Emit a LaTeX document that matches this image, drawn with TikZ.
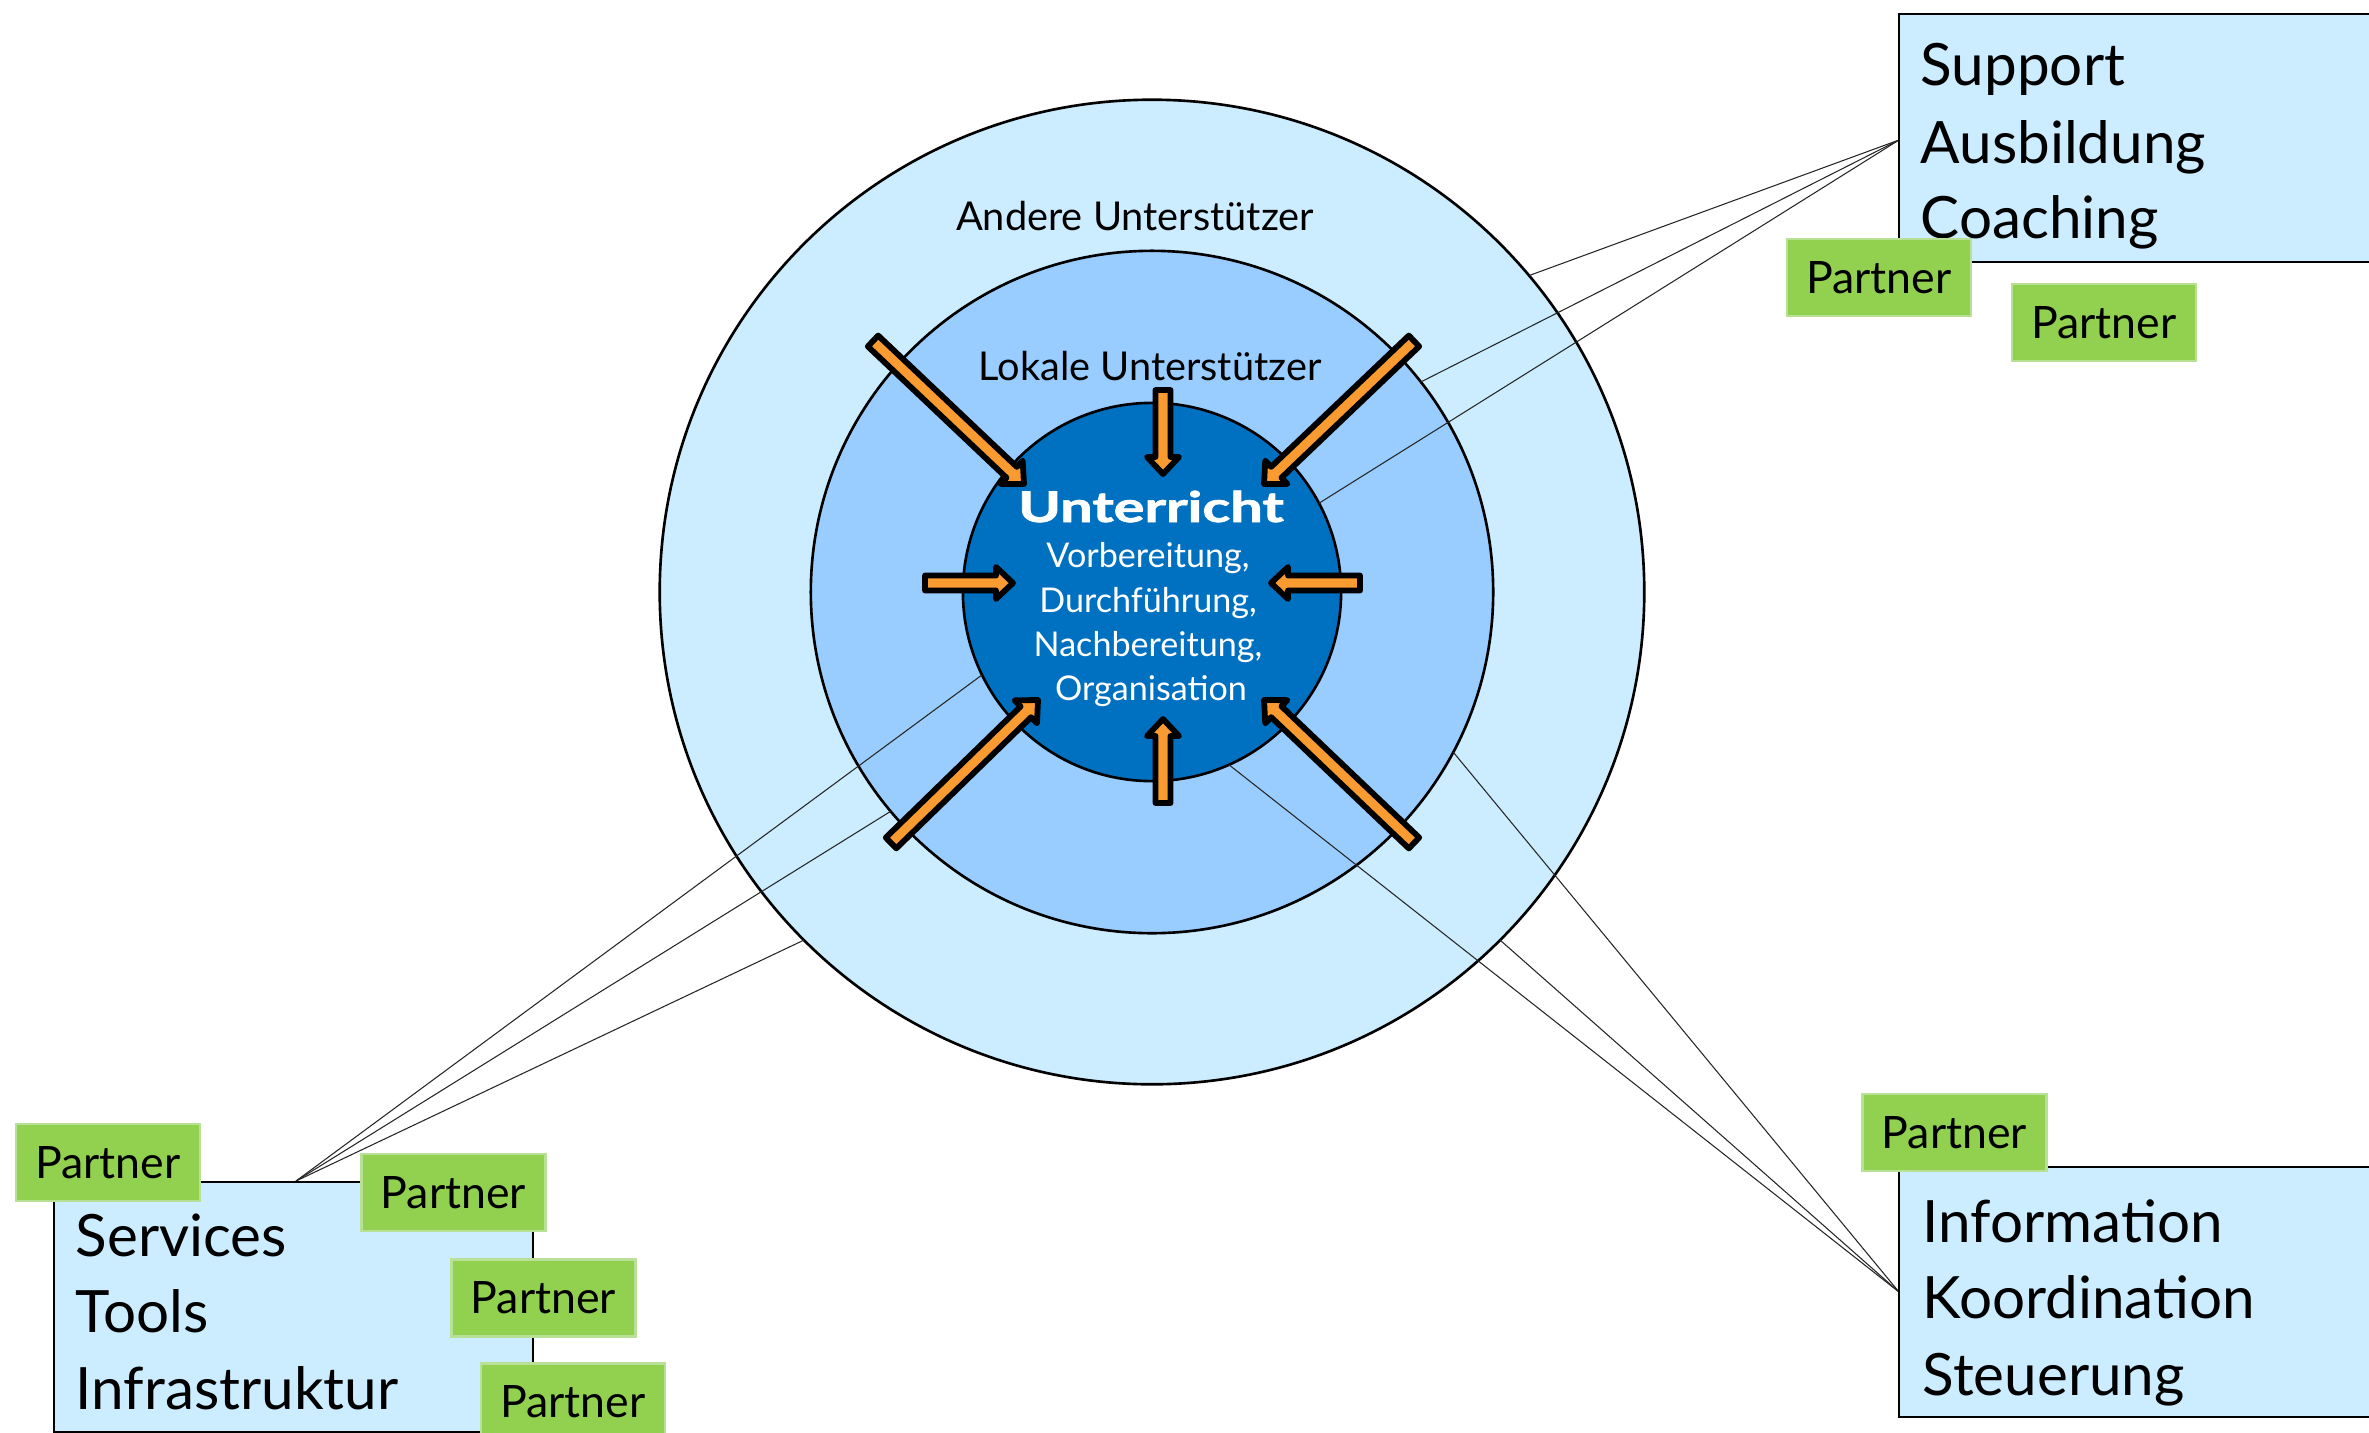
\documentclass[tikz,border=0pt]{standalone}
\usepackage{fontspec}
\setmainfont{Lato}
\usetikzlibrary{calc}
\definecolor{ringA}{RGB}{204,236,255}
\definecolor{ringB}{RGB}{153,204,255}
\definecolor{core}{RGB}{0,112,192}
\definecolor{partnerG}{RGB}{146,208,80}
\definecolor{partnerB}{RGB}{184,224,150}
\definecolor{arrowO}{RGB}{250,155,50}
\tikzset{
  ring/.style={circle, draw=black, line width=0.75pt, inner sep=0pt, outer sep=0pt},
  link/.style={draw=black!85, line width=0.3pt},
  blockarrow/.style={draw=black, fill=arrowO, line width=0.058cm, line join=round},
  bigbox/.style={draw=black, fill=ringA, line width=0.6pt, inner sep=0pt, outer sep=0pt, anchor=north west},
  boxtext/.style={anchor=base west, inner sep=0pt, font=\fontsize{16.6pt}{20pt}\selectfont},
  partner/.style={draw=partnerB, fill=partnerG, line width=0.8pt, minimum width=1.84cm, minimum height=0.77cm, inner sep=0pt, font=\fontsize{12.7pt}{15pt}\selectfont},
  ringtext/.style={anchor=base, inner sep=0pt, font=\fontsize{11.3pt}{14pt}\selectfont},
  coretext/.style={anchor=base, inner sep=0pt, text=white, font=\fontsize{9.7pt}{12pt}\selectfont},
}
\newcommand{\barrow}[2]{%
  \coordinate (hb) at ($(#2)!0.17cm!(#1)$);
  \draw[blockarrow] ($(#1)!0.075cm!90:(#2)$) -- ($(hb)!0.075cm!90:(#2)$) -- ($(hb)!0.16cm!90:(#2)$) -- (#2)
     -- ($(hb)!0.16cm!-90:(#2)$) -- ($(hb)!0.075cm!-90:(#2)$) -- ($(#1)!0.075cm!-90:(#2)$) -- cycle;
}
\begin{document}
\begin{tikzpicture}[x=0.01cm, y=-0.01cm]
\path[use as bounding box, clip] (0,0) rectangle (2369,1433);
\fill[white] (0,0) rectangle (2369,1433);

% circles
\node[ring, fill=ringA, minimum size=9.84cm] (outer) at (1152,592) {};
\node[ring, fill=ringB, minimum size=6.82cm] (mid) at (1152,592) {};
\node[ring, fill=core, minimum size=3.78cm] (inner) at (1152,592) {};

% apexes of the connector fans
\coordinate (aTR) at (1899,140);
\coordinate (aBL) at (296,1181);
\coordinate (aBR) at (1899,1292);

\draw[link] (aTR) -- (outer.40);
\draw[link] (aTR) -- (mid.38);
\draw[link] (aTR) -- (inner.28);
\draw[link] (aBL) -- (outer.225);
\draw[link] (aBL) -- (mid.220);
\draw[link] (aBL) -- (inner.206);
\draw[link] (aBR) -- (outer.315);
\draw[link] (aBR) -- (mid.332);
\draw[link] (aBR) -- (inner.294);

% arrows
\coordinate (nT) at (1163,390);  \coordinate (nH) at (1163,474);
\coordinate (sT) at (1163,803);  \coordinate (sH) at (1163,719);
\coordinate (wT) at (925,583);   \coordinate (wH) at (1013,583);
\coordinate (eT) at (1360,583);  \coordinate (eH) at (1271,583);
\coordinate (nwT) at (873,341);  \coordinate (nwH) at (1024,484);
\coordinate (neT) at (1414,341); \coordinate (neH) at (1264,484);
\coordinate (swT) at (891,843);  \coordinate (swH) at (1038,700);
\coordinate (seT) at (1414,843); \coordinate (seH) at (1264,700);
\barrow{nT}{nH}
\barrow{sT}{sH}
\barrow{wT}{wH}
\barrow{eT}{eH}
\barrow{nwT}{nwH}
\barrow{neT}{neH}
\barrow{swT}{swH}
\barrow{seT}{seH}

% circle texts
\node[ringtext] (andere) at (1135,230) {Andere Unterstützer};
\node[ringtext] (lokale) at (1150,380) {Lokale Unterstützer};
\node[anchor=base, inner sep=0pt, text=white, font=\fontsize{12pt}{14pt}\selectfont\bfseries\addfontfeature{FakeBold=1.5}] (unt) at (1151,522) {\scalebox{1.37}[1]{Unterricht}};
\node[coretext] (c1) at (1148,567) {Vorbereitung,};
\node[coretext] (c2) at (1148,612) {Durchführung,};
\node[coretext] (c3) at (1148,656) {Nachbereitung,};
\node[coretext] (c4) at (1151,700) {Organisation};

% boxes
\node[bigbox, minimum width=5.2cm, minimum height=2.48cm] (boxTR) at (1899,14) {};
\node[bigbox, minimum width=4.79cm, minimum height=2.50cm] (boxBL) at (54,1182) {};
\node[bigbox, minimum width=5.2cm, minimum height=2.50cm] (boxBR) at (1899,1167) {};

\node[boxtext] (t1) at (1920,85) {Support};
\node[boxtext] (t2) at (1920,163) {Ausbildung};
\node[boxtext] (t3) at (1920,238) {Coaching};
\node[boxtext] (t4) at (75,1256) {Services};
\node[boxtext] (t5) at (75,1332) {Tools};
\node[boxtext] (t6) at (75,1409) {Infrastruktur};
\node[boxtext] (t7) at (1922,1242) {Information};
\node[boxtext] (t8) at (1922,1318) {Koordination};
\node[boxtext] (t9) at (1922,1395) {Steuerung};

% partners
\node[partner] (p1) at (1879,277.5) {Partner};
\node[partner] (p2) at (2104,322.5) {Partner};
\node[partner] (pA) at (108,1162.5) {Partner};
\node[partner] (pB) at (453.5,1192.5) {Partner};
\node[partner] (pC) at (543.5,1298) {Partner};
\node[partner] (pD) at (573,1402) {Partner};
\node[partner] (pE) at (1954.5,1132.5) {Partner};
\end{tikzpicture}
\end{document}
